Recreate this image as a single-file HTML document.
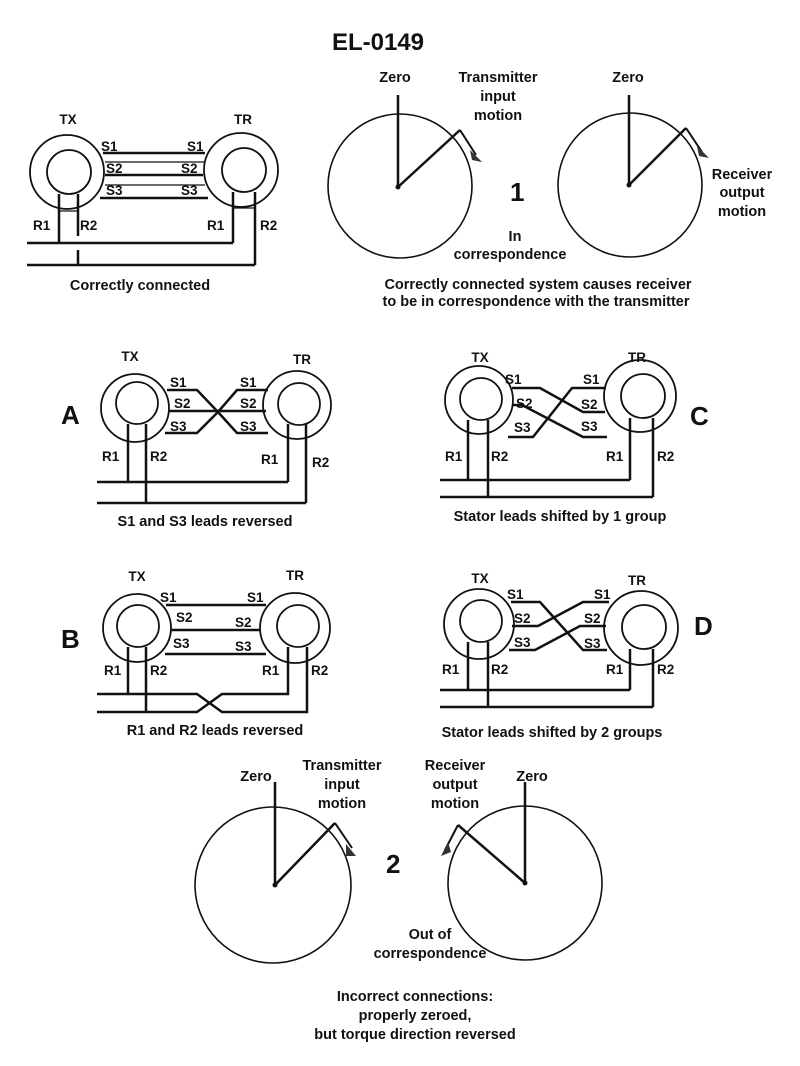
<!DOCTYPE html>
<html><head><meta charset="utf-8"><style>
html,body{margin:0;padding:0;background:#fff}
svg{display:block}
text{font-family:"Liberation Sans",Arial,sans-serif;font-weight:bold;fill:#111}
</style></head><body>
<svg width="800" height="1066" viewBox="0 0 800 1066" xmlns="http://www.w3.org/2000/svg">
<rect width="800" height="1066" fill="#fff"/>
<text x="378" y="50" font-size="24" text-anchor="middle">EL-0149</text>

<g fill="none" stroke="#111">
<!-- TOP LEFT -->
<circle cx="67" cy="172" r="37" stroke-width="1.8"/>
<circle cx="69" cy="172" r="22" stroke-width="1.8"/>
<circle cx="241" cy="170" r="37" stroke-width="1.8"/>
<circle cx="244" cy="170" r="22" stroke-width="1.8"/>
<g stroke-width="2.5">
<line x1="103" y1="153" x2="205" y2="153"/>
<line x1="105" y1="175" x2="203" y2="175"/>
<line x1="100" y1="198" x2="208" y2="198"/>
<line x1="59" y1="194" x2="59" y2="243"/>
<line x1="78" y1="194" x2="78" y2="236"/>
<line x1="78" y1="250" x2="78" y2="265"/>
<line x1="27" y1="243" x2="233" y2="243"/>
<line x1="233" y1="192" x2="233" y2="243"/>
<line x1="255" y1="192" x2="255" y2="265"/>
<line x1="27" y1="265" x2="255" y2="265"/>
</g>
<g stroke-width="1.2">
<line x1="105" y1="162" x2="205" y2="162"/>
<line x1="105" y1="185" x2="205" y2="185"/>
<line x1="59" y1="211" x2="78" y2="211"/>
<line x1="233" y1="208" x2="255" y2="208"/>
</g>

<!-- TOP CIRCLES -->
<circle cx="400" cy="186" r="72" stroke-width="1.6"/>
<line x1="398" y1="187" x2="398" y2="95" stroke-width="2.5"/>
<line x1="398" y1="187" x2="460" y2="130" stroke-width="2.5"/>
<polyline points="460,130 476,155" stroke-width="2"/>
<circle cx="630" cy="185" r="72" stroke-width="1.6"/>
<line x1="629" y1="185" x2="629" y2="95" stroke-width="2.5"/>
<line x1="629" y1="185" x2="686" y2="128" stroke-width="2.5"/>
<polyline points="686,128 702,152" stroke-width="2"/>

<!-- A -->
<circle cx="135" cy="408" r="34" stroke-width="1.8"/>
<circle cx="137" cy="403" r="21" stroke-width="1.8"/>
<circle cx="297" cy="405" r="34" stroke-width="1.8"/>
<circle cx="299" cy="404" r="21" stroke-width="1.8"/>
<g stroke-width="2.5">
<polyline points="167,390 197,390 218,412 237,390 268,390"/>
<line x1="168" y1="411" x2="266" y2="411"/>
<polyline points="165,433 197,433 218,412 237,433 268,433"/>
<line x1="128" y1="424" x2="128" y2="482"/>
<line x1="146" y1="424" x2="146" y2="503"/>
<line x1="97" y1="482" x2="288" y2="482"/>
<line x1="288" y1="424" x2="288" y2="482"/>
<line x1="306" y1="424" x2="306" y2="503"/>
<line x1="97" y1="503" x2="306" y2="503"/>
</g>

<!-- C -->
<circle cx="479" cy="400" r="34" stroke-width="1.8"/>
<circle cx="481" cy="399" r="21" stroke-width="1.8"/>
<circle cx="640" cy="396" r="36" stroke-width="1.8"/>
<circle cx="643" cy="396" r="22" stroke-width="1.8"/>
<g stroke-width="2.5">
<polyline points="512,388 540,388 583,412 605,412"/>
<polyline points="513,405 522,405 583,437 607,437"/>
<polyline points="508,437 533,437 572,388 606,388"/>
<line x1="468" y1="420" x2="468" y2="480"/>
<line x1="488" y1="420" x2="488" y2="497"/>
<line x1="440" y1="480" x2="630" y2="480"/>
<line x1="630" y1="418" x2="630" y2="480"/>
<line x1="653" y1="418" x2="653" y2="497"/>
<line x1="440" y1="497" x2="653" y2="497"/>
</g>

<!-- B -->
<circle cx="137" cy="628" r="34" stroke-width="1.8"/>
<circle cx="138" cy="626" r="21" stroke-width="1.8"/>
<circle cx="295" cy="628" r="35" stroke-width="1.8"/>
<circle cx="298" cy="626" r="21" stroke-width="1.8"/>
<g stroke-width="2.5">
<line x1="166" y1="605" x2="266" y2="605"/>
<line x1="170" y1="630" x2="261" y2="630"/>
<line x1="165" y1="654" x2="266" y2="654"/>
<line x1="128" y1="647" x2="128" y2="694"/>
<line x1="146" y1="647" x2="146" y2="712"/>
<polyline points="97,694 197,694 222,712 307,712 307,647"/>
<polyline points="97,712 197,712 222,694 288,694 288,647"/>
</g>

<!-- D -->
<circle cx="479" cy="624" r="35" stroke-width="1.8"/>
<circle cx="481" cy="621" r="21" stroke-width="1.8"/>
<circle cx="641" cy="628" r="37" stroke-width="1.8"/>
<circle cx="644" cy="627" r="22" stroke-width="1.8"/>
<g stroke-width="2.5">
<polyline points="511,602 540,602 583,650 607,650"/>
<polyline points="512,626 538,626 583,602 609,602"/>
<polyline points="509,650 535,650 580,626 606,626"/>
<line x1="468" y1="642" x2="468" y2="690"/>
<line x1="488" y1="642" x2="488" y2="707"/>
<line x1="440" y1="690" x2="630" y2="690"/>
<line x1="630" y1="649" x2="630" y2="690"/>
<line x1="653" y1="649" x2="653" y2="707"/>
<line x1="440" y1="707" x2="653" y2="707"/>
</g>

<!-- BOTTOM CIRCLES -->
<circle cx="273" cy="885" r="78" stroke-width="1.6"/>
<line x1="275" y1="885" x2="275" y2="782" stroke-width="2.5"/>
<line x1="275" y1="885" x2="335" y2="823" stroke-width="2.5"/>
<polyline points="335,823 352,848" stroke-width="2"/>
<circle cx="525" cy="883" r="77" stroke-width="1.6"/>
<line x1="525" y1="883" x2="525" y2="782" stroke-width="2.5"/>
<line x1="525" y1="883" x2="458" y2="825" stroke-width="2.5"/>
<polyline points="458,825 445,850" stroke-width="2"/>
</g>
<g fill="#333">
<polygon points="470,150 482,162 472,160"/>
<polygon points="697,146 709,158 699,156"/>
<polygon points="346,844 356,856 346,856"/>
<polygon points="448,842 441,856 451,852"/>
</g>
<g fill="#111">
<circle cx="398" cy="187" r="2.5"/><circle cx="629" cy="185" r="2.5"/>
<circle cx="275" cy="885" r="2.5"/><circle cx="525" cy="883" r="2.5"/>
</g>

<g font-size="13.5">
<text x="68" y="124" text-anchor="middle">TX</text><text x="243" y="124" text-anchor="middle">TR</text>
<text x="101" y="151">S1</text><text x="187" y="151">S1</text>
<text x="106" y="173">S2</text><text x="181" y="173">S2</text>
<text x="106" y="195">S3</text><text x="181" y="195">S3</text>
<text x="33" y="230">R1</text><text x="80" y="230">R2</text>
<text x="207" y="230">R1</text><text x="260" y="230">R2</text>

<text x="130" y="361" text-anchor="middle">TX</text><text x="302" y="364" text-anchor="middle">TR</text>
<text x="170" y="387">S1</text><text x="240" y="387">S1</text>
<text x="174" y="408">S2</text><text x="240" y="408">S2</text>
<text x="170" y="431">S3</text><text x="240" y="431">S3</text>
<text x="102" y="461">R1</text><text x="150" y="461">R2</text>
<text x="261" y="464">R1</text><text x="312" y="467">R2</text>

<text x="480" y="362" text-anchor="middle">TX</text><text x="637" y="362" text-anchor="middle">TR</text>
<text x="505" y="384">S1</text><text x="583" y="384">S1</text>
<text x="516" y="408">S2</text><text x="581" y="409">S2</text>
<text x="514" y="432">S3</text><text x="581" y="431">S3</text>
<text x="445" y="461">R1</text><text x="491" y="461">R2</text>
<text x="606" y="461">R1</text><text x="657" y="461">R2</text>

<text x="137" y="581" text-anchor="middle">TX</text><text x="295" y="580" text-anchor="middle">TR</text>
<text x="160" y="602">S1</text><text x="247" y="602">S1</text>
<text x="176" y="622">S2</text><text x="235" y="627">S2</text>
<text x="173" y="648">S3</text><text x="235" y="651">S3</text>
<text x="104" y="675">R1</text><text x="150" y="675">R2</text>
<text x="262" y="675">R1</text><text x="311" y="675">R2</text>

<text x="480" y="583" text-anchor="middle">TX</text><text x="637" y="585" text-anchor="middle">TR</text>
<text x="507" y="599">S1</text><text x="594" y="599">S1</text>
<text x="514" y="623">S2</text><text x="584" y="623">S2</text>
<text x="514" y="647">S3</text><text x="584" y="648">S3</text>
<text x="442" y="674">R1</text><text x="491" y="674">R2</text>
<text x="606" y="674">R1</text><text x="657" y="674">R2</text>
</g>

<g font-size="26">
<text x="61" y="424">A</text><text x="61" y="648">B</text>
<text x="690" y="425">C</text><text x="694" y="635">D</text>
<text x="510" y="201">1</text><text x="386" y="873">2</text>
</g>

<g font-size="14.5" text-anchor="middle">
<text x="140" y="290">Correctly connected</text>
<text x="395" y="82">Zero</text>
<text x="498" y="82">Transmitter</text><text x="498" y="101">input</text><text x="498" y="120">motion</text>
<text x="628" y="82">Zero</text>
<text x="742" y="179">Receiver</text><text x="742" y="197">output</text><text x="742" y="216">motion</text>
<text x="515" y="241">In</text><text x="510" y="259">correspondence</text>
<text x="538" y="289">Correctly connected  system causes receiver</text>
<text x="536" y="306">to be in correspondence with the transmitter</text>
<text x="205" y="526">S1 and S3 leads reversed</text>
<text x="560" y="521">Stator leads shifted by 1 group</text>
<text x="215" y="735">R1 and R2 leads reversed</text>
<text x="552" y="737">Stator leads shifted by 2 groups</text>
<text x="256" y="781">Zero</text>
<text x="342" y="770">Transmitter</text><text x="342" y="789">input</text><text x="342" y="808">motion</text>
<text x="455" y="770">Receiver</text><text x="455" y="789">output</text><text x="455" y="808">motion</text>
<text x="532" y="781">Zero</text>
<text x="430" y="939">Out of</text><text x="430" y="958">correspondence</text>
<text x="415" y="1001">Incorrect connections:</text>
<text x="415" y="1020">properly zeroed,</text>
<text x="415" y="1039">but torque direction reversed</text>
</g>
</svg>
</body></html>
